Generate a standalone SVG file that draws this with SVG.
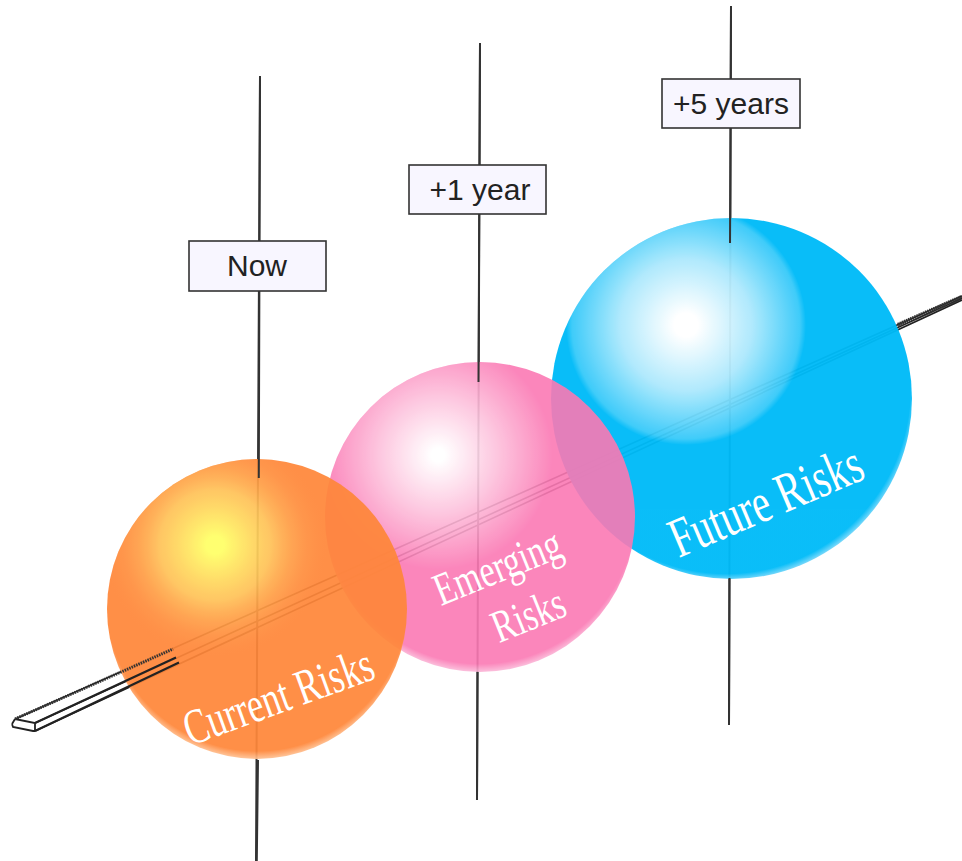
<svg xmlns="http://www.w3.org/2000/svg" width="962" height="861" viewBox="0 0 962 861">
<style>
.lbl{fill:#f8f6ff;stroke:#333;stroke-width:1.6}
.lt{font:30px "Liberation Sans",Arial,sans-serif;fill:#222;text-anchor:middle}
.rt{font-family:"Liberation Serif","Times New Roman",serif;fill:#fff;text-anchor:middle}
.v{stroke:#333;stroke-width:2;fill:none}
.r{stroke:#222;stroke-width:2.2;fill:none}
</style>
<defs>
<radialGradient id="bO" cx=".5" cy=".47" r=".53"><stop offset=".95" stop-color="#ff873a"/><stop offset=".995" stop-color="#ffbd8c"/></radialGradient>
<radialGradient id="bP" cx=".5" cy=".47" r=".53"><stop offset=".95" stop-color="#fb79b4"/><stop offset=".995" stop-color="#fbb4d6"/></radialGradient>
<radialGradient id="bB" cx=".485" cy=".475" r=".54"><stop offset=".945" stop-color="#00bbf8"/><stop offset=".995" stop-color="#a8e3fb"/></radialGradient>
<radialGradient id="hO"><stop offset=".08" stop-color="#ffff66"/><stop offset=".5" stop-color="#ffd060" stop-opacity=".8"/><stop offset="1" stop-color="#ff8a3e" stop-opacity="0"/></radialGradient>
<radialGradient id="hP"><stop offset=".06" stop-color="#fff"/><stop offset=".5" stop-color="#fff" stop-opacity=".55"/><stop offset="1" stop-color="#fff" stop-opacity="0"/></radialGradient>
<radialGradient id="hB"><stop offset=".1" stop-color="#fff"/><stop offset=".55" stop-color="#fff" stop-opacity=".68"/><stop offset=".95" stop-color="#fff" stop-opacity=".22"/><stop offset="1" stop-color="#fff" stop-opacity="0"/></radialGradient>
<clipPath id="cO"><circle cx="257" cy="609" r="150"/></clipPath>
<clipPath id="cP"><circle cx="480" cy="517" r="155"/></clipPath>
<clipPath id="cB"><circle cx="731.5" cy="398.5" r="180.5"/></clipPath>
</defs>
<rect width="962" height="861" fill="#fff"/>
<g id="connectors-back">
<path d="M15 719L962 296M35 723L962 298M35 731L962 300" fill="none" stroke="#222" stroke-width="1.6"/>
<path class="v" d="M260 76L256 861M480 43L477 800M731 6L729 725"/>
</g>
<g id="sphere-future" opacity=".96">
<circle cx="731.500" cy="398.500" r="180.500" fill="url(#bB)"/>
<circle cx="686" cy="325" r="120" fill="url(#hB)" clip-path="url(#cB)"/>
</g>
<g id="sphere-emerging" opacity=".9">
<circle cx="480" cy="517" r="155" fill="url(#bP)"/>
<circle cx="438" cy="455" r="115" fill="url(#hP)" clip-path="url(#cP)"/>
</g>
<g id="sphere-current" opacity=".93">
<circle cx="257" cy="609" r="150" fill="url(#bO)"/>
<circle cx="215" cy="545" r="112" fill="url(#hO)" clip-path="url(#cO)"/>
</g>
<g id="connectors-front">
<path d="M15 719L35 723L35 731" fill="none" stroke="#222" stroke-width="1.8"/>
<path d="M12 724L15 719M12 724L13 727L33 731L35 731" fill="none" stroke="#222" stroke-width="1.8"/>
<path d="M15 719L173 649" fill="none" stroke="#333" stroke-width="3" stroke-dasharray="1.500 1"/>
<path class="r" d="M35 723L176 657.500M35 731L179 662.500"/>
<path d="M898 325L962 297" fill="none" stroke="#333" stroke-width="4.500" stroke-dasharray="1.500 .8"/>
<path class="v" d="M260 76L258.800 478M258 760L256.800 861M480 43L478.500 382M477.500 672L477 800M731 6L730 243M729.500 578L729 725"/>
</g>
<g id="label-now"><rect class="lbl" x="189" y="241" width="137" height="50"/><text class="lt" x="257" y="276">Now</text></g>
<g id="label-1y"><rect class="lbl" x="409" y="165" width="137" height="49"/><text class="lt" x="480" y="200">+1 year</text></g>
<g id="label-5y"><rect class="lbl" x="662" y="79" width="138" height="49"/><text class="lt" x="731" y="114">+5 years</text></g>
<g id="text-current"><text class="rt" font-size="50" transform="translate(284 712) rotate(-20) scale(.72 1)">Current Risks</text></g>
<g id="text-emerging">
<text class="rt" font-size="46" transform="translate(503 581) rotate(-22) scale(.74 1)">Emerging</text>
<text class="rt" font-size="46" transform="translate(534 629) rotate(-22) scale(.74 1)">Risks</text>
</g>
<g id="text-future"><text class="rt" font-size="56" transform="translate(773 518) rotate(-23) scale(.72 1)">Future Risks</text></g>
</svg>
